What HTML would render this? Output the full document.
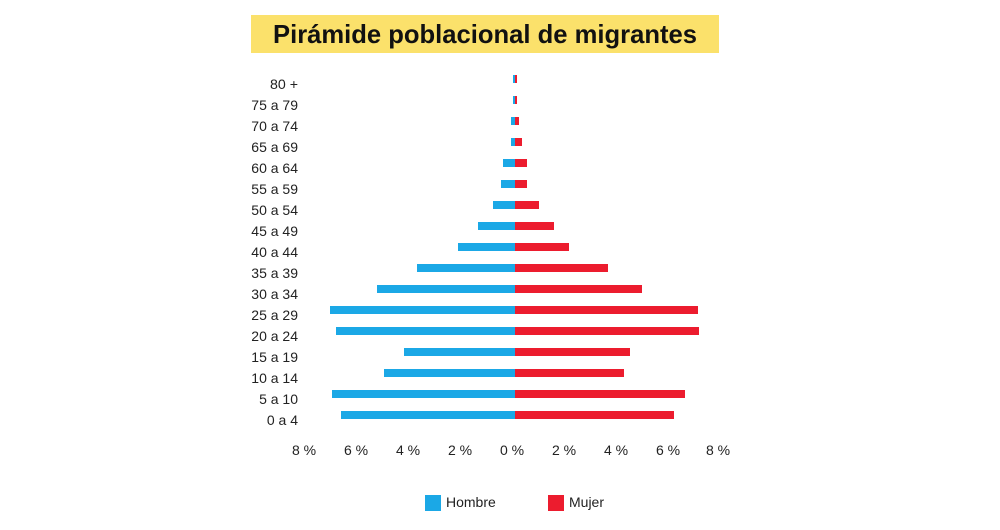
<!DOCTYPE html>
<html><head><meta charset="utf-8"><style>
html,body{margin:0;padding:0;background:#fff;}
svg{display:block;font-family:"Liberation Sans",sans-serif;}
</style></head><body>
<svg width="1000" height="530" viewBox="0 0 1000 530" xmlns="http://www.w3.org/2000/svg">
<rect x="251" y="15" width="468" height="38" fill="#fbe16b"/>
<text x="485" y="43" text-anchor="middle" font-size="26" font-weight="bold" fill="#111" textLength="424" lengthAdjust="spacingAndGlyphs">Pirámide poblacional de migrantes</text>
<g font-size="14" fill="#222" text-anchor="end">
<text x="298" y="89" textLength="28" lengthAdjust="spacingAndGlyphs">80 +</text>
<text x="298" y="110">75 a 79</text>
<text x="298" y="131">70 a 74</text>
<text x="298" y="152">65 a 69</text>
<text x="298" y="173">60 a 64</text>
<text x="298" y="194">55 a 59</text>
<text x="298" y="215">50 a 54</text>
<text x="298" y="236">45 a 49</text>
<text x="298" y="257">40 a 44</text>
<text x="298" y="278">35 a 39</text>
<text x="298" y="299">30 a 34</text>
<text x="298" y="320">25 a 29</text>
<text x="298" y="341">20 a 24</text>
<text x="298" y="362">15 a 19</text>
<text x="298" y="383">10 a 14</text>
<text x="298" y="404">5 a 10</text>
<text x="298" y="425">0 a 4</text>
</g>
<g fill="#1ba8e6">
<rect x="513" y="75" width="2" height="8"/>
<rect x="513" y="96" width="2" height="8"/>
<rect x="511" y="117" width="4" height="8"/>
<rect x="511" y="138" width="4" height="8"/>
<rect x="503" y="159" width="12" height="8"/>
<rect x="501" y="180" width="14" height="8"/>
<rect x="493" y="201" width="22" height="8"/>
<rect x="478" y="222" width="37" height="8"/>
<rect x="458" y="243" width="57" height="8"/>
<rect x="417" y="264" width="98" height="8"/>
<rect x="377" y="285" width="138" height="8"/>
<rect x="330" y="306" width="185" height="8"/>
<rect x="336" y="327" width="179" height="8"/>
<rect x="404" y="348" width="111" height="8"/>
<rect x="384" y="369" width="131" height="8"/>
<rect x="332" y="390" width="183" height="8"/>
<rect x="341" y="411" width="174" height="8"/>
</g>
<g fill="#ec1c2e">
<rect x="515" y="75" width="2" height="8"/>
<rect x="515" y="96" width="2" height="8"/>
<rect x="515" y="117" width="4" height="8"/>
<rect x="515" y="138" width="7" height="8"/>
<rect x="515" y="159" width="12" height="8"/>
<rect x="515" y="180" width="12" height="8"/>
<rect x="515" y="201" width="24" height="8"/>
<rect x="515" y="222" width="39" height="8"/>
<rect x="515" y="243" width="54" height="8"/>
<rect x="515" y="264" width="93" height="8"/>
<rect x="515" y="285" width="127" height="8"/>
<rect x="515" y="306" width="183" height="8"/>
<rect x="515" y="327" width="184" height="8"/>
<rect x="515" y="348" width="115" height="8"/>
<rect x="515" y="369" width="109" height="8"/>
<rect x="515" y="390" width="170" height="8"/>
<rect x="515" y="411" width="159" height="8"/>
</g>
<g font-size="14" fill="#222" text-anchor="middle">
<text x="304" y="455">8 %</text>
<text x="356" y="455">6 %</text>
<text x="408" y="455">4 %</text>
<text x="460" y="455">2 %</text>
<text x="512" y="455">0 %</text>
<text x="564" y="455">2 %</text>
<text x="616" y="455">4 %</text>
<text x="668" y="455">6 %</text>
<text x="718" y="455">8 %</text>
</g>
<rect x="425" y="495" width="16" height="16" fill="#1ba8e6"/>
<text x="446" y="507" font-size="14" fill="#222">Hombre</text>
<rect x="548" y="495" width="16" height="16" fill="#ec1c2e"/>
<text x="569" y="507" font-size="14" fill="#222">Mujer</text>
</svg>
</body></html>
